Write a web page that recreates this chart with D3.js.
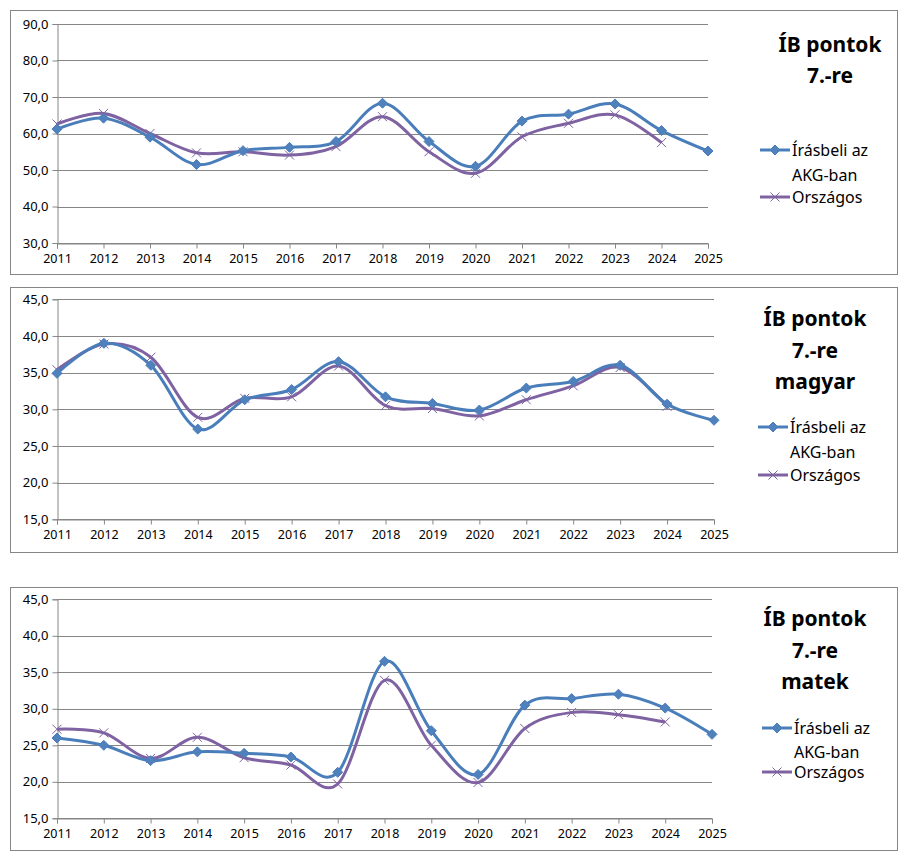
<!DOCTYPE html>
<html>
<head>
<meta charset="utf-8">
<script src="https://cdn.jsdelivr.net/npm/d3@7"></script>
<style>
  body { margin: 0; background: #fff; }
  svg { display: block; }
</style>
</head>
<body>
<svg id="chart" width="906" height="862"></svg>
<script>
// ---- data ----
var years = [2011, 2012, 2013, 2014, 2015, 2016, 2017, 2018, 2019, 2020, 2021, 2022, 2023, 2024, 2025];

// osszesitett pontok
var akgOsszes  = [61.2, 64.2, 59.0, 51.5, 55.3, 56.2, 57.8, 68.3, 57.8, 51.0, 63.4, 65.3, 68.1, 60.8, 55.2];
var orszOsszes = [62.6, 65.5, 60.0, 54.7, 55.0, 54.1, 56.4, 64.6, 55.0, 49.1, 59.1, 62.8, 65.1, 57.5];

// magyar
var akgMagyar  = [34.9, 39.0, 36.0, 27.3, 31.3, 32.7, 36.5, 31.7, 30.8, 29.9, 32.9, 33.8, 36.0, 30.7, 28.5];
var orszMagyar = [35.4, 38.9, 37.1, 28.9, 31.5, 31.7, 35.9, 30.5, 30.1, 29.1, 31.3, 33.2, 35.7, 30.4];

// matek
var akgMatek   = [26.0, 25.0, 22.9, 24.1, 23.9, 23.4, 21.3, 36.5, 27.0, 21.0, 30.5, 31.4, 32.0, 30.1, 26.5];
var orszMatek  = [27.2, 26.7, 23.2, 26.1, 23.3, 22.3, 19.7, 33.9, 25.0, 19.9, 27.3, 29.5, 29.2, 28.2];

var ticksOsszes = [30, 40, 50, 60, 70, 80, 90];
var ticksTargy  = [15, 20, 25, 30, 35, 40, 45];

var legendNames = ["Írásbeli az", "AKG-ban", "Országos"];
var titles = [
  ["ÍB pontok", "7.-re"],
  ["ÍB pontok", "7.-re", "magyar"],
  ["ÍB pontok", "7.-re", "matek"]
];

// ---- layout ----
var BLUE = "#4A7EBB", BLUE_FILL = "#4F81BD", PURPLE = "#7F62A1", GRID = "#868686";

var panels = [
  { box: [10, 10, 887, 264], x: [57, 708], y: [243, 24], ticks: ticksOsszes,
    akg: akgOsszes, orsz: orszOsszes, title: titles[0], tx: 830, ty: 45, tdy: 31,
    lx: 760, ly: [150, 175, 197] },
  { box: [10, 287, 887, 265], x: [57, 714], y: [519.3, 299.3], ticks: ticksTargy,
    akg: akgMagyar, orsz: orszMagyar, title: titles[1], tx: 815, ty: 319, tdy: 31.5,
    lx: 758, ly: [427, 452, 475] },
  { box: [10, 587, 887, 263], x: [57, 712], y: [818.3, 599.3], ticks: ticksTargy,
    akg: akgMatek, orsz: orszMatek, title: titles[2], tx: 815, ty: 619, tdy: 31.5,
    lx: 762, ly: [728, 752, 772] }
];

var svg = d3.select("#chart");
var fmt = function(v){ return d3.format(".1f")(v).replace(".", ","); };
var diamond = "M0,-5L5,0L0,5L-5,0Z";
var cross = "M-4.5,-4.5L4.5,4.5M-4.5,4.5L4.5,-4.5";

panels.forEach(function(p){
  var g = svg.append("g");

  g.append("rect")
    .attr("x", p.box[0] + 0.5).attr("y", p.box[1] + 0.5)
    .attr("width", p.box[2]).attr("height", p.box[3])
    .attr("fill", "#fff").attr("stroke", GRID).attr("stroke-width", 1);

  var x = d3.scaleLinear().domain([years[0], years[years.length - 1]]).range(p.x);
  var y = d3.scaleLinear().domain([p.ticks[0], p.ticks[p.ticks.length - 1]]).range(p.y);

  // gridlines
  g.append("g").selectAll("line").data(p.ticks).enter().append("line")
    .attr("x1", p.x[0]).attr("x2", p.x[1])
    .attr("y1", function(d){ return Math.round(y(d)) + 0.5; })
    .attr("y2", function(d){ return Math.round(y(d)) + 0.5; })
    .attr("stroke", GRID).attr("stroke-width", 1);

  // y axis
  var yAxis = d3.axisLeft(y).tickValues(p.ticks).tickFormat(fmt).tickSize(5).tickPadding(4);
  var ya = g.append("g").attr("transform", "translate(" + (p.x[0] + 0.5) + ",0)").call(yAxis);

  // x axis
  var xAxis = d3.axisBottom(x).tickValues(years).tickFormat(d3.format("d")).tickSize(5).tickPadding(6);
  var xa = g.append("g").attr("transform", "translate(0," + (Math.round(p.y[0]) + 0.5) + ")").call(xAxis);

  [ya, xa].forEach(function(a){
    a.select(".domain").attr("stroke", GRID);
    a.selectAll(".tick line").attr("stroke", GRID);
    a.selectAll("text").attr("fill", "#000")
      .style("font-family", "'Noto Sans', sans-serif");
  });
  ya.selectAll("text").style("font-size", "13px");
  xa.selectAll("text").style("font-size", "12.5px");

  var line = d3.line()
    .x(function(d){ return x(d[0]); })
    .y(function(d){ return y(d[1]); })
    .curve(d3.curveCatmullRom.alpha(0));

  var akgPts = p.akg.map(function(v, i){ return [years[i], v]; });
  var orszPts = p.orsz.map(function(v, i){ return [years[i], v]; });

  g.append("path").datum(orszPts).attr("d", line)
    .attr("fill", "none").attr("stroke", PURPLE).attr("stroke-width", 3);
  g.append("path").datum(akgPts).attr("d", line)
    .attr("fill", "none").attr("stroke", BLUE).attr("stroke-width", 3);

  g.append("g").selectAll("path").data(orszPts).enter().append("path")
    .attr("transform", function(d){ return "translate(" + x(d[0]) + "," + y(d[1]) + ")"; })
    .attr("d", cross).attr("stroke", PURPLE).attr("stroke-width", 1).attr("fill", "none");
  g.append("g").selectAll("path").data(akgPts).enter().append("path")
    .attr("transform", function(d){ return "translate(" + x(d[0]) + "," + y(d[1]) + ")"; })
    .attr("d", diamond).attr("fill", BLUE_FILL).attr("stroke", BLUE).attr("stroke-width", 1);

  // title
  g.append("g").selectAll("text").data(p.title).enter().append("text")
    .attr("x", p.tx).attr("y", function(d, i){ return p.ty + i * p.tdy; })
    .attr("dy", "0.35em").attr("text-anchor", "middle")
    .style("font-family", "'Noto Sans', sans-serif").style("font-size", "21px")
    .style("font-weight", "bold").text(function(d){ return d; });

  // legend
  var lg = g.append("g");
  lg.append("line").attr("x1", p.lx).attr("x2", p.lx + 30)
    .attr("y1", p.ly[0]).attr("y2", p.ly[0]).attr("stroke", BLUE).attr("stroke-width", 3);
  lg.append("path").attr("transform", "translate(" + (p.lx + 15) + "," + p.ly[0] + ")")
    .attr("d", diamond).attr("fill", BLUE_FILL).attr("stroke", BLUE);
  lg.append("line").attr("x1", p.lx).attr("x2", p.lx + 30)
    .attr("y1", p.ly[2]).attr("y2", p.ly[2]).attr("stroke", PURPLE).attr("stroke-width", 3);
  lg.append("path").attr("transform", "translate(" + (p.lx + 15) + "," + p.ly[2] + ")")
    .attr("d", cross).attr("stroke", PURPLE).attr("fill", "none");
  lg.selectAll("text").data(legendNames).enter().append("text")
    .attr("x", p.lx + 32).attr("y", function(d, i){ return p.ly[i]; })
    .attr("dy", "0.35em")
    .style("font-family", "'Noto Sans', sans-serif").style("font-size", "16px")
    .text(function(d){ return d; });
});
</script>
</body>
</html>
